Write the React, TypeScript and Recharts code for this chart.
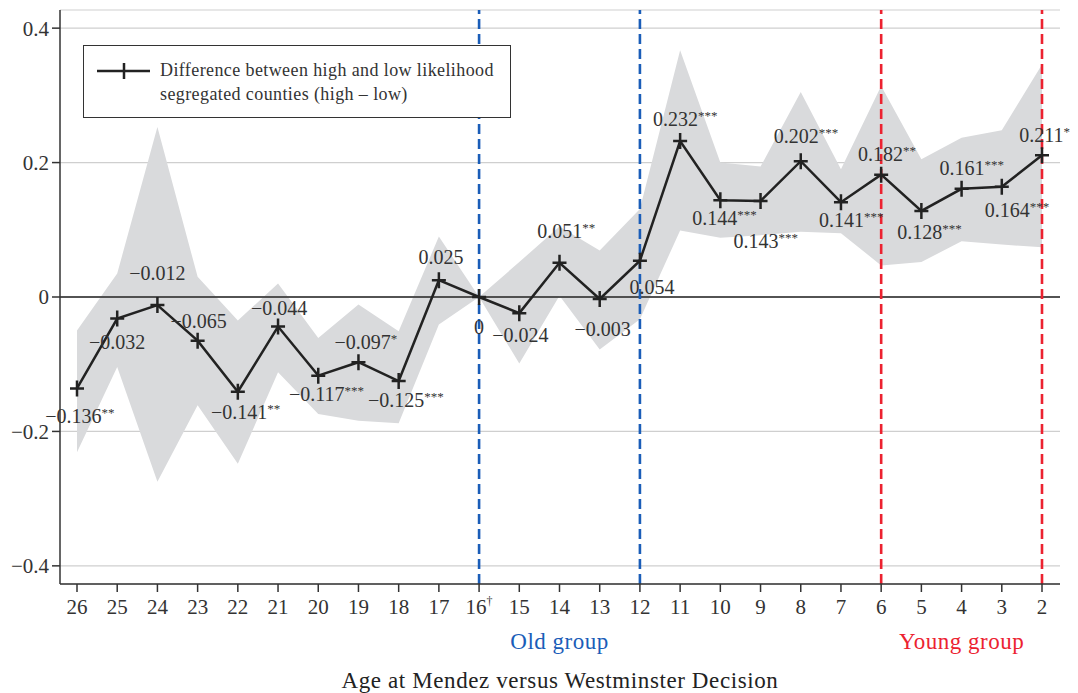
import React from "react";
import {
  ComposedChart,
  Area,
  Line,
  XAxis,
  YAxis,
  CartesianGrid,
  ReferenceLine,
  ReferenceArea,
  Legend,
  LabelList,
} from "recharts";

const ages = [26, 25, 24, 23, 22, 21, 20, 19, 18, 17, 16, 15, 14, 13, 12, 11, 10, 9, 8, 7, 6, 5, 4, 3, 2];
const tickLabels = ["26", "25", "24", "23", "22", "21", "20", "19", "18", "17", "16†", "15", "14", "13", "12", "11", "10", "9", "8", "7", "6", "5", "4", "3", "2"];
const estimates = [-0.136, -0.032, -0.012, -0.065, -0.141, -0.044, -0.117, -0.097, -0.125, 0.025, 0, -0.024, 0.051, -0.003, 0.054, 0.232, 0.144, 0.143, 0.202, 0.141, 0.182, 0.128, 0.161, 0.164, 0.211];
const stars = ["**", "", "", "", "**", "", "***", "*", "***", "", "", "", "**", "", "", "***", "***", "***", "***", "***", "**", "***", "***", "***", "**"];
const lowerCI = [-0.231, -0.104, -0.275, -0.161, -0.248, -0.112, -0.174, -0.184, -0.188, -0.041, 0, -0.099, 0.002, -0.078, -0.033, 0.099, 0.088, 0.092, 0.097, 0.095, 0.047, 0.052, 0.083, 0.078, 0.074];
const upperCI = [-0.05, 0.035, 0.253, 0.03, -0.035, 0.02, -0.061, -0.011, -0.051, 0.09, 0, 0.052, 0.105, 0.069, 0.131, 0.367, 0.2, 0.194, 0.305, 0.19, 0.314, 0.205, 0.237, 0.248, 0.346];
const yTicks = [-0.4, -0.2, 0, 0.2, 0.4];
const oldGroup = [16, 12];
const youngGroup = [6, 2];

// label placement relative to each point: [dx, dy] of the number's centre
const labelOffsets = [
  [-4, 28], [0, 23], [0, -32], [1, -20], [1, 20], [1, -19], [-2, 18], [4, -20], [-3, 19], [2, -23],
  [0, 30], [1, 22], [0, -32], [3, 30], [12, 26], [-5, -22], [-6, 18], [-5, 40], [-5, -25], [0, 18],
  [-1, -21], [-2, 21], [0, -21], [5, 23], [-1, -20],
];

const data = ages.map((age, i) => ({
  age,
  est: estimates[i],
  band: [lowerCI[i], upperCI[i]],
}));

const FONT = '"Liberation Serif", "DejaVu Serif", serif';
const BLUE = "#1a5db8";
const RED = "#ec2230";
const INK = "#222";

const fmt = (v: number) => (v === 0 ? "0" : (v < 0 ? "\u2212" : "") + Math.abs(v).toFixed(3));
const fmtY = (v: number) => (v === 0 ? "0" : (v < 0 ? "\u2212" : "") + Math.abs(v).toFixed(1));

const PlusDot = (props: any) => {
  const { cx, cy } = props;
  if (cx == null || cy == null) return null;
  return (
    <path
      d={`M${cx - 7},${cy}H${cx + 7}M${cx},${cy - 8}V${cy + 8}`}
      stroke={INK}
      strokeWidth={2.5}
      fill="none"
    />
  );
};

const ValueLabel = (props: any) => {
  const { x, y, index } = props;
  if (x == null || y == null || index == null) return null;
  const [dx, dy] = labelOffsets[index];
  const s = stars[index];
  const shift = s.length * 3.4;
  return (
    <text
      x={x + dx + shift}
      y={y + dy + 7}
      textAnchor="middle"
      fontFamily={FONT}
      fontSize={20}
      fill="#333"
    >
      <tspan>{fmt(estimates[index])}</tspan>
      {s ? (
        <tspan fontSize={13} dy={-6}>
          {s}
        </tspan>
      ) : null}
    </text>
  );
};

const AgeTick = (props: any) => {
  const { x, y, payload } = props;
  const label = tickLabels[ages.indexOf(payload.value)] ?? String(payload.value);
  const dagger = label.endsWith("†");
  return (
    <text x={x} y={y + 20} textAnchor="middle" fontFamily={FONT} fontSize={21} fill="#333">
      <tspan>{dagger ? label.slice(0, -1) : label}</tspan>
      {dagger ? (
        <tspan fontSize={12} dy={-9}>
          †
        </tspan>
      ) : null}
    </text>
  );
};

const LegendBox = () => (
  <div
    style={{
      position: "relative",
      width: 428,
      height: 73,
      boxSizing: "border-box",
      border: "1.5px solid #333",
      background: "#fff",
      fontFamily: FONT,
      fontSize: 18,
      letterSpacing: 0.4,
      color: "#333",
    }}
  >
    <svg width={70} height={50} style={{ position: "absolute", left: 0, top: 0 }}>
      <path d="M13,25H66M40,17V33" stroke={INK} strokeWidth={2.5} fill="none" />
    </svg>
    <div style={{ position: "absolute", left: 76, top: 12, lineHeight: "24px", whiteSpace: "nowrap" }}>
      Difference between high and low likelihood
      <br />
      segregated counties (high – low)
    </div>
  </div>
);

export default function App() {
  return (
    <div style={{ width: 1070, height: 685 }}>
      <ComposedChart
        width={1070}
        height={685}
        data={data}
        margin={{ top: 2, right: 18, left: 0, bottom: 0 }}
      >
        <CartesianGrid horizontal vertical={false} stroke="#cfcfcf" strokeWidth={1.2} />
        <XAxis
          dataKey="age"
          type="category"
          scale="point"
          padding={{ left: 17, right: 18 }}
          interval={0}
          height={109}
          tickSize={8}
          tickMargin={2}
          tick={<AgeTick />}
          axisLine={{ stroke: "#333", strokeWidth: 1.5 }}
          tickLine={{ stroke: "#333", strokeWidth: 1.5 }}
          label={{
            value: "Age at Mendez versus Westminster Decision",
            position: "insideBottom",
            offset: 5,
            fontSize: 23,
            letterSpacing: 0.6,
            fill: INK,
            fontFamily: FONT,
          }}
        />
        <YAxis
          type="number"
          domain={[-0.427, 0.427]}
          allowDataOverflow
          ticks={yTicks}
          width={52}
          tickSize={8}
          tickMargin={3}
          tickFormatter={fmtY}
          tick={{ fontSize: 21, fill: "#333", fontFamily: FONT }}
          axisLine={{ stroke: "#333", strokeWidth: 1.5 }}
          tickLine={{ stroke: "#333", strokeWidth: 1.5 }}
        />
        <Legend
          layout="vertical"
          align="center"
          verticalAlign="middle"
          content={<LegendBox />}
          wrapperStyle={{ left: 75, top: 37, width: 428, height: 73 }}
        />
        <Area
          dataKey="band"
          type="linear"
          fill="#d9dadc"
          fillOpacity={1}
          stroke="none"
          isAnimationActive={false}
          legendType="none"
        />
        <ReferenceLine y={0} stroke={INK} strokeWidth={1.4} />
        <ReferenceArea
          x1={oldGroup[0]}
          x2={oldGroup[1]}
          fillOpacity={0}
          strokeOpacity={0}
          label={{ value: "Old group", position: "bottom", offset: 49, fill: BLUE, fontSize: 23, letterSpacing: 0.5, fontFamily: FONT }}
        />
        <ReferenceArea
          x1={youngGroup[0]}
          x2={youngGroup[1]}
          fillOpacity={0}
          strokeOpacity={0}
          label={{ value: "Young group", position: "bottom", offset: 49, fill: RED, fontSize: 23, letterSpacing: 0.5, fontFamily: FONT }}
        />
        {oldGroup.map((a) => (
          <ReferenceLine key={`o${a}`} x={a} stroke={BLUE} strokeWidth={2.6} strokeDasharray="10 5" />
        ))}
        {youngGroup.map((a) => (
          <ReferenceLine key={`y${a}`} x={a} stroke={RED} strokeWidth={2.6} strokeDasharray="10 5" />
        ))}
        <Line
          dataKey="est"
          type="linear"
          stroke={INK}
          strokeWidth={2.5}
          dot={<PlusDot />}
          activeDot={false}
          isAnimationActive={false}
        >
          <LabelList dataKey="est" content={<ValueLabel />} />
        </Line>
      </ComposedChart>
    </div>
  );
}
